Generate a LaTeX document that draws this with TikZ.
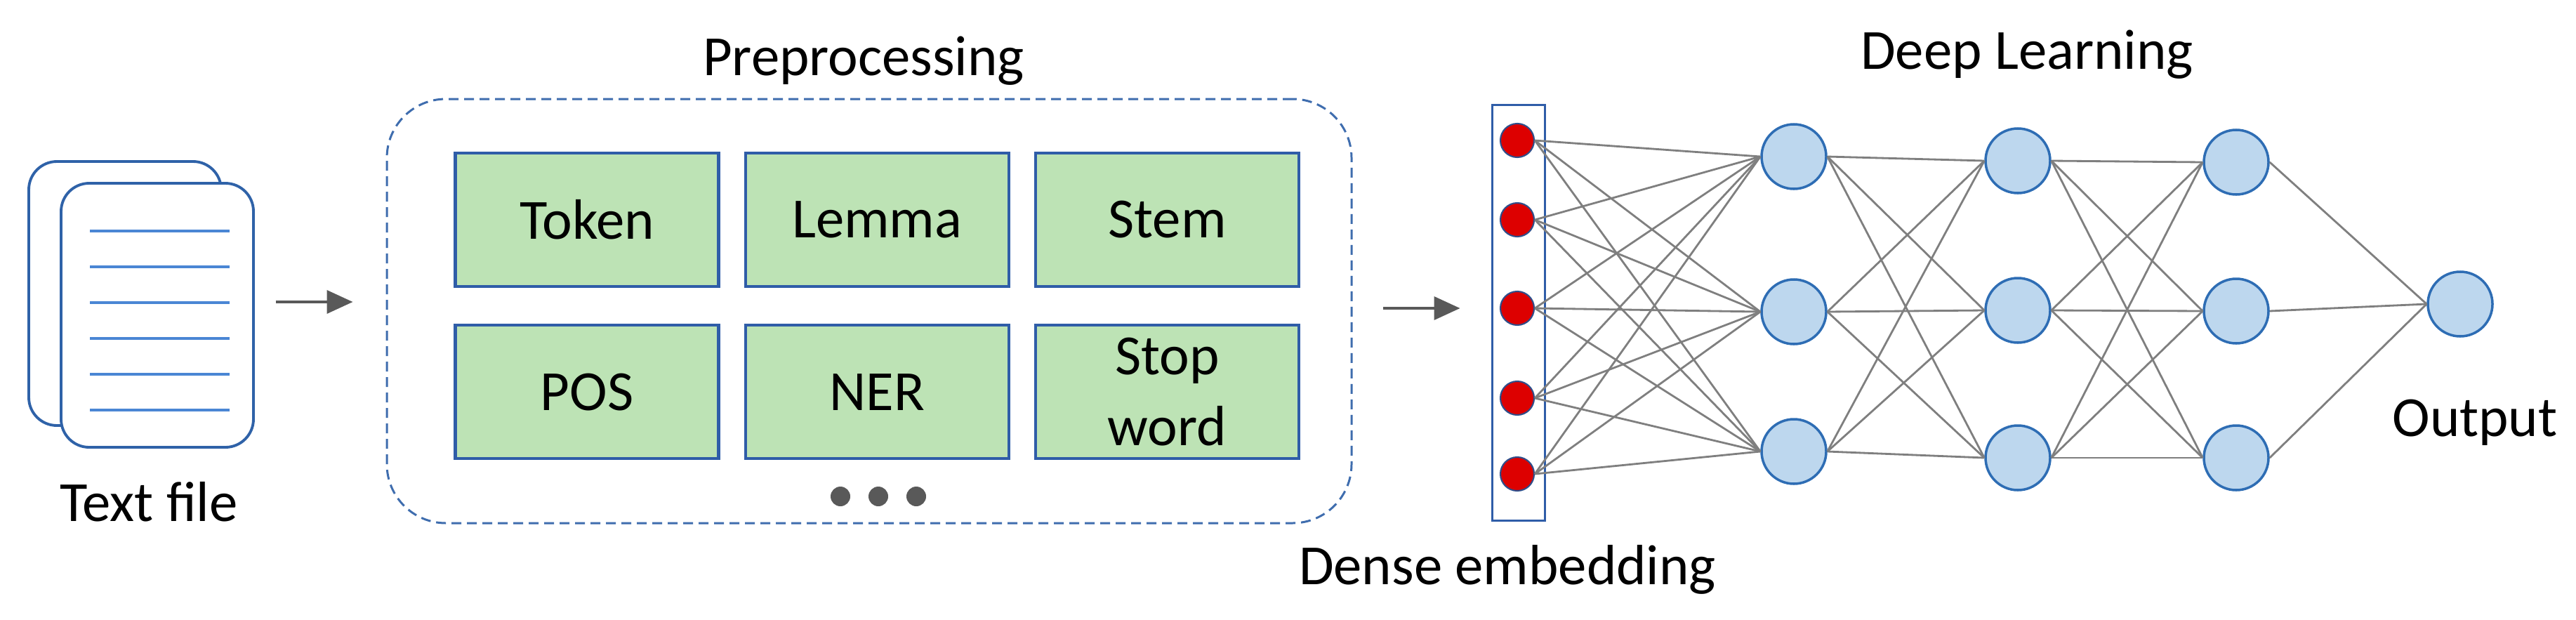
\documentclass[tikz,border=0pt]{standalone}
\usepackage{fontspec}
\setmainfont{Carlito}
\usetikzlibrary{arrows.meta,positioning}
\definecolor{docblue}{HTML}{2F62A8}
\definecolor{lineblue}{HTML}{4A86D4}
\definecolor{boxblue}{HTML}{2F5DA8}
\definecolor{boxgreen}{HTML}{BDE3B5}
\definecolor{dashblue}{HTML}{3F6DAE}
\definecolor{arrowgray}{HTML}{595959}
\definecolor{wiregray}{HTML}{7F7F7F}
\definecolor{embred}{HTML}{DD0000}
\definecolor{embborder}{HTML}{2F4E8A}
\definecolor{nfill}{HTML}{BDD7EE}
\definecolor{nborder}{HTML}{2E6DB4}
\tikzset{
  docpage/.style={draw=docblue,line width=1.1pt,fill=white,rounded corners=0.4cm,minimum width=2.74cm,minimum height=3.76cm},
  docline/.style={draw=lineblue,line width=1.3pt},
  task/.style={draw=boxblue,line width=1.2pt,fill=boxgreen,minimum width=3.75cm,minimum height=1.9cm,align=center,font=\fontsize{23}{28.7}\selectfont},
  lbl/.style={font=\fontsize{23}{28}\selectfont,anchor=base,inner sep=0pt},
  flow/.style={draw=arrowgray,line width=1.1pt,-{Triangle[length=0.37cm,width=0.33cm]}},
  embdot/.style={circle,draw=embborder,line width=0.6pt,fill=embred,minimum size=0.48cm,inner sep=0pt},
  neuron/.style={circle,draw=nborder,line width=1pt,fill=nfill,minimum size=0.92cm,inner sep=0pt},
  wire/.style={draw=wiregray,line width=0.8pt}
}
\begin{document}
\begin{tikzpicture}
\useasboundingbox (0,0) rectangle (36.69,8.82);
%text file
\node[docpage] (back) at (1.78,4.64) {};
\node[docpage] (front) at (2.24,4.33) {};
\foreach \i in {0,...,5}{\draw[docline] ([xshift=-0.96cm,yshift=1.2cm-0.51cm*\i]front.center)--++(1.99,0);}
\node[lbl] (txtlbl) at (2.12,1.40) {Text file};
%preprocessing
\node[draw=dashblue,line width=0.85pt,dash pattern=on 0.14cm off 0.08cm,rounded corners=0.84cm,minimum width=13.74cm,minimum height=6.04cm] (prep) at (12.38,4.39) {};
\node[lbl] (preplbl) at (12.30,7.75) {Preprocessing};
\node[task] (token) at (8.36,5.69) {Token};
\node[task,right=0.34cm of token] (lemma) {Lemma};
\node[task,right=0.34cm of lemma] (stem) {Stem};
\node[task,below=0.51cm of token] (pos) {POS};
\node[task,below=0.51cm of lemma] (ner) {NER};
\node[task,below=0.51cm of stem] (stop) {Stop\\word};
\foreach \x in {11.97,12.51,13.05}{\fill[arrowgray] (\x,1.75) circle (0.14);}
\draw[flow,shorten <=0.3cm,shorten >=0.47cm] ([yshift=1.9mm]front.east)--([yshift=1.9mm]front.east -| prep.west);
%embedding
\node[draw=boxblue,line width=0.85pt,minimum width=0.75cm,minimum height=5.92cm,inner sep=0pt] (embbox) at (21.625,4.37) {};
\foreach \i/\y in {1/6.82,2/5.69,3/4.43,4/3.15,5/2.07}{\node[embdot] (e\i) at (21.61,\y) {};}
\node[lbl] (denselbl) at (21.47,0.50) {Dense embedding};
\draw[flow,shorten <=0.43cm,shorten >=0.44cm] ([yshift=0.4mm]prep.east)--([yshift=0.4mm]prep.east -| embbox.west);
%network
\foreach \i/\y in {1/6.59,2/4.38,3/2.39}{\node[neuron] (a\i) at (25.55,\y) {};}
\foreach \i/\y in {1/6.53,2/4.40,3/2.30}{\node[neuron] (b\i) at (28.74,\y) {};}
\foreach \i/\y in {1/6.51,2/4.39,3/2.30}{\node[neuron] (c\i) at (31.85,\y) {};}
\node[neuron] (out) at (35.04,4.49) {};
\foreach \i in {1,...,5}{\foreach \j in {1,2,3}{\draw[wire] (e\i.east)--(a\j.west);}}
\foreach \i in {1,2,3}{\foreach \j in {1,2,3}{\draw[wire] (a\i.east)--(b\j.west);\draw[wire] (b\i.east)--(c\j.west);}}
\foreach \i in {1,2,3}{\draw[wire] (c\i.east)--(out.west);}
\node[lbl] (deeplbl) at (28.87,7.84) {Deep Learning};
\node[lbl] (outlbl) at (35.25,2.61) {Output};
\end{tikzpicture}
\end{document}
